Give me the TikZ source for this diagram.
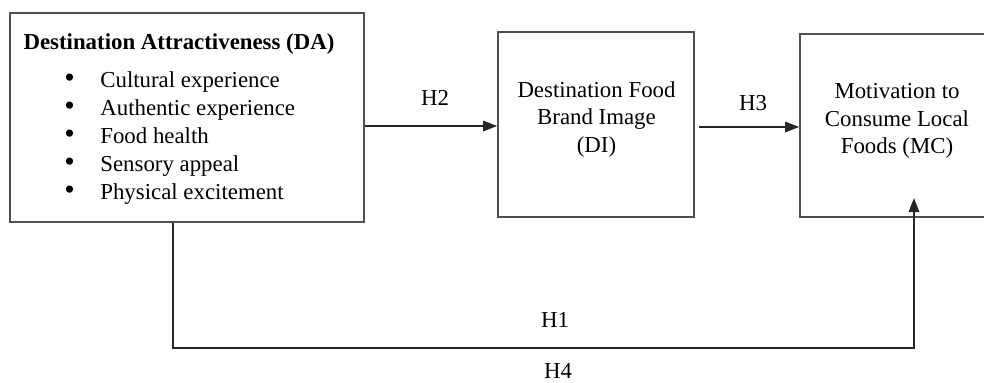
\documentclass[tikz,border=0pt]{standalone}
\usepackage{fontspec}
\setmainfont{Liberation Serif}
\usepackage{tikz}
\usetikzlibrary{positioning, arrows.meta, calc}
\definecolor{BoxGray}{RGB}{80,80,80}
\newcommand{\listdot}{\makebox[0.72cm][l]{\fontsize{17}{16}\selectfont\textbullet}}

\begin{document}
\begin{tikzpicture}[
          box/.style={rectangle, draw=BoxGray, line width=1pt, inner sep=0pt},
          txt/.style={font=\fontsize{13}{15.5}\selectfont, align=center, inner sep=0pt},
          arr/.style={-{Triangle[length=8pt, width=6pt]}, line width=0.9pt, black!85}
        ]
        \useasboundingbox (0,0) rectangle (19.68,7.64);

        % Destination attractiveness
        \node[box, minimum width=7.08cm, minimum height=4.18cm]
              (da) at (3.74, 5.29) {};
        \node[txt, font=\fontsize{13}{15.5}\selectfont\bfseries]
              (datitle) at (3.58, 6.76) {Destination Attractiveness (DA)};
        \node[txt, align=left, anchor=west, font=\fontsize{13}{16}\selectfont]
              (dalist) at (1.28, 4.88)
              {\listdot Cultural experience\\
               \listdot Authentic experience\\
               \listdot Food health\\
               \listdot Sensory appeal\\
               \listdot Physical excitement};

        % Brand image
        \node[box, minimum width=3.92cm, minimum height=3.7cm]
              (di) at (11.92, 5.15) {};
        \node[txt] (ditext) at (11.93, 5.25)
              {Destination Food\\Brand Image\\(DI)};

        % Motivation (box runs past the right edge)
        \node[box, minimum width=3.8cm, minimum height=3.66cm]
              (mc) at (17.9, 5.13) {};
        \node[txt] (mctext) at (17.94, 5.22)
              {Motivation to\\Consume Local\\Foods (MC)};

        \draw[arr] ([yshift=-0.17cm]da.east) coordinate (h2a) -- (h2a -| di.west);
        \node[txt] (h2) at (8.7, 5.68) {H2};

        \draw[arr] ([yshift=-0.05cm, xshift=0.08cm]di.east) coordinate (h3a) -- (h3a -| mc.west);
        \node[txt] (h3) at (15.06, 5.58) {H3};

        % direct path
        \coordinate (mcin) at (18.28, 3.68);
        \draw[arr, line join=miter] ([xshift=-0.28cm]da.south) -- ++(0,-2.5) -| (mcin);
        \node[txt] (h1) at (11.1, 1.24) {H1};
        \node[txt] (h4) at (11.16, 0.22) {H4};
      \end{tikzpicture}
\end{document}
